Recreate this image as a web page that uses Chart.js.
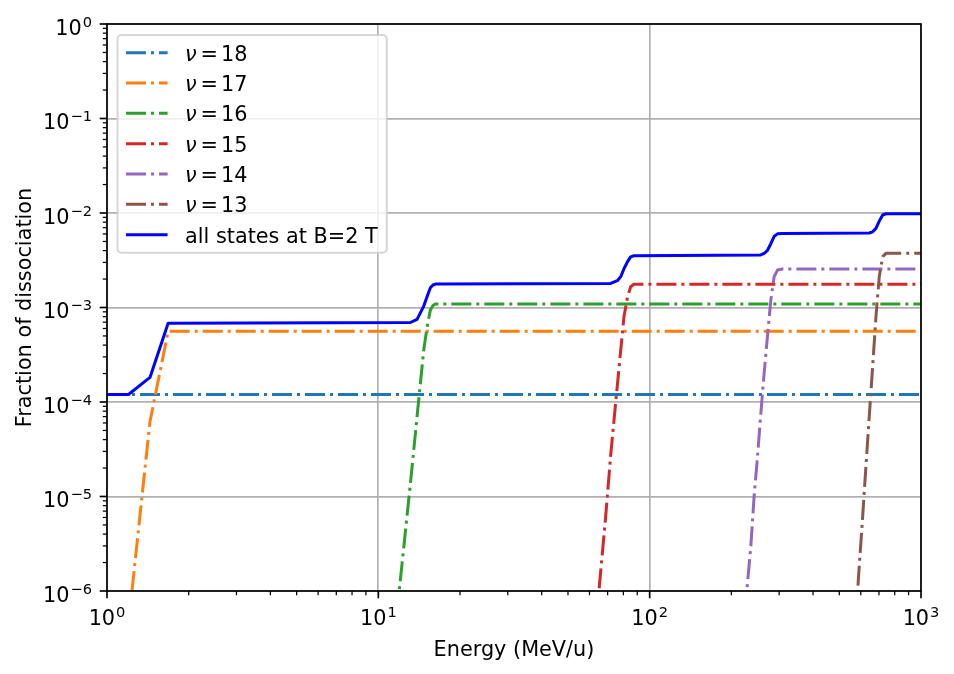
<!DOCTYPE html>
<html>
<head>
<meta charset="utf-8">
<script src="https://cdn.jsdelivr.net/npm/chart.js@4.4.1/dist/chart.umd.min.js"></script>
<style>
    html, body { margin: 0; padding: 0; background: #fff; }
    #wrap { width: 954px; height: 674px; position: relative; }
</style>
</head>
<body>
<div id="wrap"><canvas id="chart"></canvas></div>
<script>
// energies (MeV/u) and dissociation fractions
const e18 = [1, 1000]
const f18 = [1.2e-4, 1.2e-4]

const e17 = [1.2, 1.44, 1.68, 1000]
const f17 = [4.5e-7, 6.2e-5, 5.6e-4, 5.6e-4]

const e16 = [11.7, 11.95, 13.13, 13.89, 14.70, 15.13, 15.55, 15.9, 16.23, 1000]
const f16 = [5.7e-7, 1.03e-6, 1.38e-5, 7.0e-5, 3.55e-4, 6.26e-4, 9.41e-4, 1.05e-3, 1.09e-3, 1.09e-3]

const e15 = [63.5, 65.0, 68.8, 71.8, 76.0, 78.2, 80.4, 82.7, 85.1, 87.5, 1000]
const f15 = [4.8e-7, 1e-6, 6.0e-6, 2.7e-5, 1.5e-4, 3.5e-4, 8.0e-4, 1.25e-3, 1.66e-3, 1.76e-3, 1.76e-3]

const e14 = [224, 228, 236, 242.6, 249.6, 256.8, 264.1, 271.8, 279.6, 287.6, 295.9, 308.9, 1000]
const f14 = [6e-7, 1e-6, 3e-6, 1e-5, 2.6e-5, 7.5e-5, 2.0e-4, 5.0e-4, 1.2e-3, 2.12e-3, 2.49e-3, 2.55e-3, 2.55e-3]

const e13 = [575, 584, 592, 609.4, 626.6, 644.5, 663.4, 682.3, 701.7, 722.3, 742.8, 1000]
const f13 = [5.1e-7, 1e-6, 1.81e-6, 6.1e-6, 2.07e-5, 7.0e-5, 2.36e-4, 8.0e-4, 2.12e-3, 3.45e-3, 3.74e-3, 3.74e-3]

const eAll = [1, 1.2, 1.44, 1.68, 13.13, 13.89, 14.70, 15.13, 15.55, 15.9, 16.23,
    71.8, 76.0, 78.2, 80.4, 82.7, 85.1, 87.5,
    256.8, 264.1, 271.8, 279.6, 287.6, 295.9, 308.9,
    644.5, 663.4, 682.3, 701.7, 722.3, 742.8, 1000]
const fAll = [1.2e-4, 1.2e-4, 1.82e-4, 6.8e-4, 6.94e-4, 7.5e-4, 1.035e-3, 1.306e-3, 1.62e-3, 1.73e-3, 1.77e-3,
    1.8e-3, 1.92e-3, 2.11e-3, 2.57e-3, 3.02e-3, 3.43e-3, 3.53e-3,
    3.6e-3, 3.73e-3, 4.03e-3, 4.73e-3, 5.65e-3, 6.02e-3, 6.08e-3,
    6.15e-3, 6.32e-3, 6.88e-3, 8.2e-3, 9.53e-3, 9.82e-3, 9.82e-3]

const seriesLabels = ['ν = 18', 'ν = 17', 'ν = 16', 'ν = 15', 'ν = 14', 'ν = 13', 'all states at B=2 T']

// major ticks, labelled as 10^exp
const xMajor = [1, 10, 100, 1000]
const xTickExp = ['0', '1', '2', '3']
const yMajor = [1e-6, 1e-5, 1e-4, 1e-3, 1e-2, 1e-1, 1]
const yTickExp = ['−6', '−5', '−4', '−3', '−2', '−1', '0']

const FAMILY = '"DejaVu Sans", sans-serif'
const FS = 20.8
const FS_SUP = 14.6
const DASHDOT = [20, 5, 3, 5]

function withMinors(majors) {
    const out = []
    majors.forEach((m, i) => {
        out.push(m)
        if (i < majors.length - 1) for (let k = 2; k <= 9; k++) out.push(m * k)
    })
    return out
}
const xTicks = withMinors(xMajor)
const yTicks = withMinors(yMajor)

const isMajor = v => Math.abs(Math.log10(v) - Math.round(Math.log10(v))) < 1e-9

const pts = (es, fs) => es.map((e, i) => ({ x: e, y: fs[i] }))

function line(label, es, fs, color, dash, order) {
    return {
        label,
        data: pts(es, fs),
        borderColor: color,
        backgroundColor: color,
        borderWidth: 3,
        borderDash: dash,
        borderJoinStyle: 'round',
        pointRadius: 0,
        tension: 0,
        clip: 0,
        order
    }
}

const datasets = [
    line(seriesLabels[0], e18, f18, '#1f77b4', DASHDOT, 7),
    line(seriesLabels[1], e17, f17, '#ff7f0e', DASHDOT, 6),
    line(seriesLabels[2], e16, f16, '#2ca02c', DASHDOT, 5),
    line(seriesLabels[3], e15, f15, '#d62728', DASHDOT, 4),
    line(seriesLabels[4], e14, f14, '#9467bd', DASHDOT, 3),
    line(seriesLabels[5], e13, f13, '#8c564b', DASHDOT, 2),
    line(seriesLabels[6], eAll, fAll, '#0000ff', [], 1)
]

const baseFont = FS + 'px ' + FAMILY
const supFont = FS_SUP + 'px ' + FAMILY

// "10" with a raised exponent, like matplotlib's log tick labels
function powerWidth(ctx, exp) {
    ctx.font = baseFont
    const wb = ctx.measureText('10').width
    ctx.font = supFont
    return wb + 1 + ctx.measureText(exp).width
}
function drawPower(ctx, exp, x, baseline) {
    ctx.font = baseFont
    ctx.fillText('10', x, baseline)
    const wb = ctx.measureText('10').width
    ctx.font = supFont
    ctx.fillText(exp, x + wb + 1, baseline - 8)
}

const framePlugin = {
    id: 'frame',
    afterDatasetsDraw(chart) {
        const { ctx, chartArea: a, scales } = chart
        ctx.save()
        ctx.strokeStyle = '#000'
        scales.x.ticks.forEach(t => {
            const px = scales.x.getPixelForValue(t.value)
            const major = isMajor(t.value)
            ctx.lineWidth = major ? 1.67 : 1.25
            ctx.beginPath()
            ctx.moveTo(px, a.bottom)
            ctx.lineTo(px, a.bottom + (major ? 7.3 : 4.2))
            ctx.stroke()
        })
        scales.y.ticks.forEach(t => {
            const py = scales.y.getPixelForValue(t.value)
            const major = isMajor(t.value)
            ctx.lineWidth = major ? 1.67 : 1.25
            ctx.beginPath()
            ctx.moveTo(a.left, py)
            ctx.lineTo(a.left - (major ? 7.3 : 4.2), py)
            ctx.stroke()
        })
        ctx.lineWidth = 1.67
        ctx.strokeRect(a.left, a.top, a.right - a.left, a.bottom - a.top)

        // tick labels
        ctx.fillStyle = '#000'
        ctx.textAlign = 'left'
        ctx.textBaseline = 'alphabetic'
        xMajor.forEach((v, i) => {
            const px = scales.x.getPixelForValue(v)
            const w = powerWidth(ctx, xTickExp[i])
            drawPower(ctx, xTickExp[i], px - w / 2, a.bottom + 34)
        })
        yMajor.forEach((v, i) => {
            const py = scales.y.getPixelForValue(v)
            const w = powerWidth(ctx, yTickExp[i])
            drawPower(ctx, yTickExp[i], a.left - 15 - w, py + 10.5)
        })
        ctx.restore()
    },
    afterDraw(chart) {
        const { ctx } = chart
        const left = 117.5, top = 35, rowY0 = 52.7, rowStep = 30.33
        const handleX = 126, handleLen = 41.6, textX = 185
        ctx.save()
        ctx.font = baseFont
        let maxW = 0
        chart.data.datasets.forEach(d => { maxW = Math.max(maxW, ctx.measureText(d.label).width) })
        const right = textX + maxW + 9
        const bottom = rowY0 + rowStep * (chart.data.datasets.length - 1) + 18
        ctx.beginPath()
        ctx.roundRect(left, top, right - left, bottom - top, 4)
        ctx.fillStyle = 'rgba(255,255,255,0.8)'
        ctx.fill()
        ctx.strokeStyle = 'rgba(204,204,204,0.8)'
        ctx.lineWidth = 2
        ctx.stroke()

        ctx.textBaseline = 'alphabetic'
        ctx.textAlign = 'left'
        chart.data.datasets.forEach((d, i) => {
            const y = rowY0 + i * rowStep
            ctx.strokeStyle = d.borderColor
            ctx.lineWidth = 3
            ctx.setLineDash(d.borderDash || [])
            ctx.beginPath()
            ctx.moveTo(handleX, y)
            ctx.lineTo(handleX + handleLen, y)
            ctx.stroke()
            ctx.setLineDash([])
            ctx.fillStyle = '#000'
            const base = y + 8
            if (d.label.startsWith('ν')) {
                // math-style label: italic nu, tighter spacing around "="
                const rest = d.label.split(' = ')[1]
                let x = textX
                ctx.font = 'italic ' + baseFont
                ctx.fillText('ν', x, base)
                x += ctx.measureText('ν').width + 4
                ctx.font = baseFont
                ctx.fillText('=', x, base)
                x += ctx.measureText('=').width + 3
                ctx.fillText(rest, x, base)
            } else {
                ctx.font = baseFont
                ctx.fillText(d.label, textX, base)
            }
        })
        ctx.restore()
    }
}

new Chart(document.getElementById('chart').getContext('2d'), {
    type: 'line',
    data: { datasets },
    plugins: [framePlugin],
    options: {
        responsive: true,
        maintainAspectRatio: false,
        animation: false,
        devicePixelRatio: 1,
        layout: { padding: { left: 0, top: 24, right: 33, bottom: 0 } },
        plugins: {
            legend: { display: false },
            tooltip: { enabled: false }
        },
        scales: {
            x: {
                type: 'logarithmic',
                min: 1,
                max: 1000,
                afterBuildTicks: s => { s.ticks = xTicks.map(v => ({ value: v })) },
                afterFit: s => { s.height = 83 },
                ticks: { display: false, autoSkip: false },
                grid: {
                    drawTicks: false,
                    lineWidth: 1.67,
                    color: c => (c.tick && isMajor(c.tick.value)) ? '#b0b0b0' : 'rgba(0,0,0,0)'
                },
                border: { display: false },
                title: {
                    display: true,
                    text: 'Energy (MeV/u)',
                    color: '#000',
                    font: { family: FAMILY, size: FS, lineHeight: 1.2 },
                    padding: { top: 0, bottom: 11 }
                }
            },
            y: {
                type: 'logarithmic',
                min: 1e-6,
                max: 1,
                afterBuildTicks: s => { s.ticks = yTicks.map(v => ({ value: v })) },
                afterFit: s => { s.width = 107 },
                ticks: { display: false, autoSkip: false },
                grid: {
                    drawTicks: false,
                    lineWidth: 1.67,
                    color: c => (c.tick && isMajor(c.tick.value)) ? '#b0b0b0' : 'rgba(0,0,0,0)'
                },
                border: { display: false },
                title: {
                    display: true,
                    text: 'Fraction of dissociation',
                    color: '#000',
                    font: { family: FAMILY, size: FS, lineHeight: 1.2 },
                    padding: { top: 13, bottom: 0 }
                }
            }
        }
    }
})
</script>
</body>
</html>
